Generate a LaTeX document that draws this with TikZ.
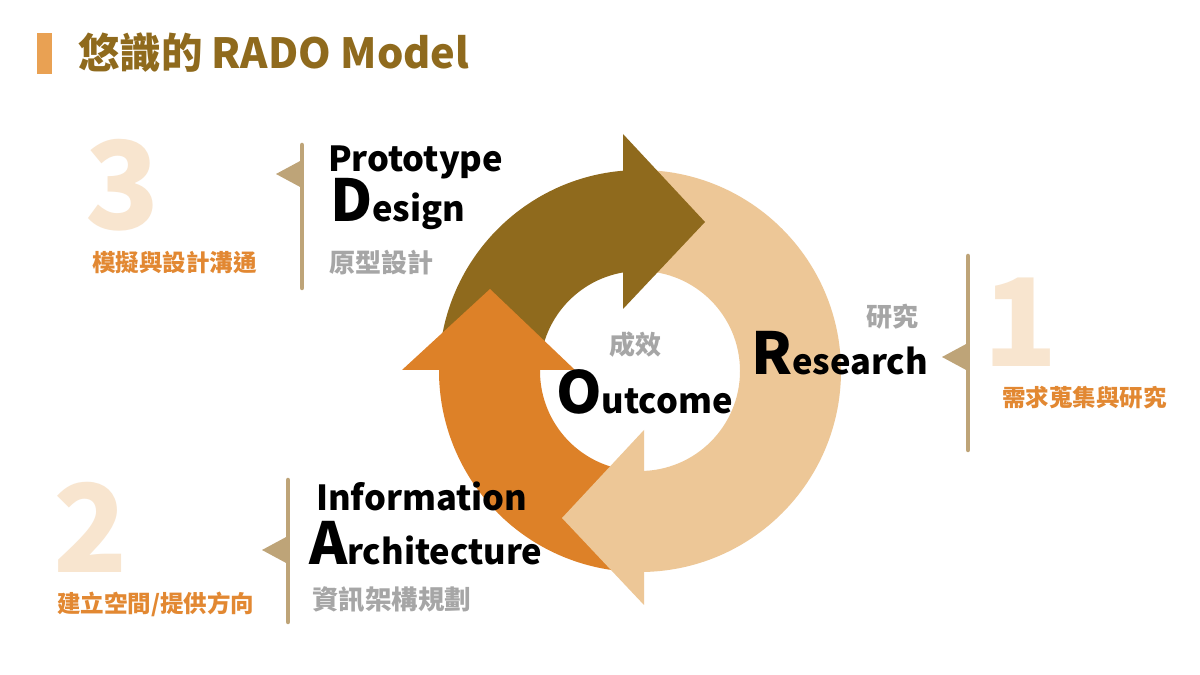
\documentclass[tikz,border=0pt]{standalone}
\usepackage{fontspec}
\setmainfont{Noto Sans CJK TC}
\usepackage{tikz}
\usetikzlibrary{calc}
\definecolor{ringbrown}{HTML}{8F6A1D}
\definecolor{ringorange}{HTML}{DD8128}
\definecolor{ringlight}{HTML}{EDC797}
\definecolor{flagtan}{HTML}{BEA478}
\definecolor{numpale}{HTML}{F8E5CF}
\definecolor{stepor}{HTML}{E28832}
\definecolor{subgray}{HTML}{A6A6A6}
\definecolor{titlebar}{HTML}{E9A153}
\tikzstyle{lbl}=[inner sep=0pt, outer sep=0pt, font=\bfseries]
\tikzstyle{bignum}=[lbl, text=numpale, anchor=base]
\tikzstyle{stepnote}=[lbl, text=stepor, anchor=west]
\tikzstyle{cjkgray}=[lbl, text=subgray, anchor=west]
\tikzstyle{eng}=[lbl, text=black, anchor=base west]
\tikzstyle{flagline}=[line width=4.5pt, line cap=round, draw=flagtan]
\newcommand{\fsz}[1]{\fontsize{#1}{#1}\selectfont}
\newcommand{\bigsmall}[2]{{\fsz{58}#1}{\fsz{34.5}#2}}
\newcommand{\drawflag}[4]
{
  \draw[flagline] (#1,#2) -- (#1,#3);
  \fill[flagtan] (#1,#4+14) -- (#1-26,#4) -- (#1,#4-14) -- cycle;
}

\begin{document}
\begin{tikzpicture}[x=1pt, y=1pt]
	\fill[white] (0,0) rectangle (1200,675);
	\useasboundingbox (0,0) rectangle (1200,675);

	% title
	\fill[titlebar] (37,642) rectangle (52,601);
	\node[lbl, text=ringbrown, anchor=west] (title) at (78,622.5) {\fsz{41.5}悠識的 RADO Model};

	\coordinate (c) at (640,304);

	% ring bodies
	\fill[ringbrown] ($(c)+(179:201)$) arc[start angle=179, end angle=90, radius=201] -- ($(c)+(90:100)$) arc[start angle=90, end angle=179, radius=100] -- cycle;
	\fill[ringorange] ($(c)+(-90:201)$) arc[start angle=-90, end angle=-185, radius=201] -- ($(c)+(175:100)$) arc[start angle=175, end angle=270, radius=100] -- cycle;
	\fill[ringlight] ($(c)+(90:201)$) arc[start angle=90, end angle=-90, radius=201] -- ($(c)+(-90:100)$) arc[start angle=-90, end angle=90, radius=100] -- cycle;

	% heads
	\fill[ringbrown] (623,541) -- (705,453) -- (623,366) -- cycle;
	\fill[ringorange] (402,305) -- (490,386) -- (575,305) -- cycle;
	\fill[ringlight] (644,245) -- (562,157) -- (644,70) -- cycle;

	% flags
	\drawflag{302}{530}{387}{501}
	\drawflag{968}{419}{225}{318}
	\drawflag{288}{195}{53}{125}

	% 1 research
	\node[bignum] (num1) at (1021,308) {\fsz{122}1};
	\node[stepnote] (note1) at (1002,277) {\fsz{23.5}需求蒐集與研究};
	\node[cjkgray] (sub1) at (866,358.5) {\fsz{26}研究};
	\node[eng] (research) at (751,300) {\bigsmall{R}{esearch}};

	% 2 architecture
	\node[bignum] (num2) at (91,102) {\fsz{122}2};
	\node[stepnote] (note2) at (57,71) {\fsz{23.5}建立空間/提供方向};
	\node[eng] (info) at (316,164) {\fsz{34.5}Information};
	\node[eng] (arch) at (309,110) {\bigsmall{A}{rchitecture}};
	\node[cjkgray] (sub2) at (312,75) {\fsz{26.5}資訊架構規劃};

	% 3 design
	\node[bignum] (num3) at (122.5,445) {\fsz{122}3};
	\node[stepnote] (note3) at (92,412) {\fsz{23.5}模擬與設計溝通};
	\node[eng] (proto) at (328,503) {\fsz{34.5}Prototype};
	\node[eng] (design) at (330,453) {\bigsmall{D}{esign}};
	\node[cjkgray] (sub3) at (329,412.5) {\fsz{26}原型設計};

	% center
	\node[cjkgray] (sub0) at (609,330) {\fsz{26}成效};
	\node[eng] (outcome) at (556,261) {\bigsmall{O}{utcome}};
\end{tikzpicture}
\end{document}
